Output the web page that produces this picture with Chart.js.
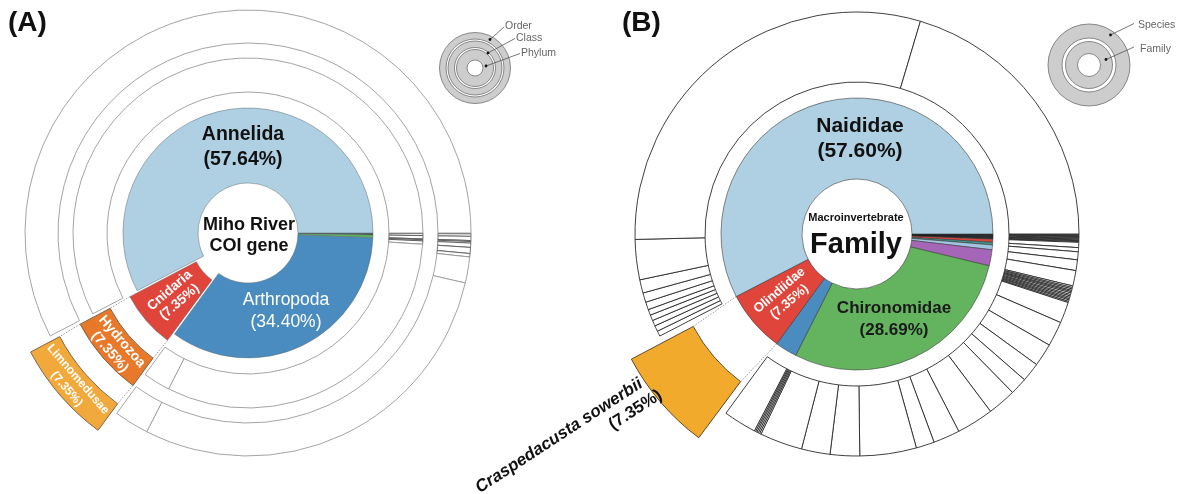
<!DOCTYPE html>
<html>
<head>
<meta charset="utf-8">
<script src="https://cdn.jsdelivr.net/npm/chart.js@4.4.1/dist/chart.umd.min.js"></script>
<style>
  html, body { margin: 0; padding: 0; background: #ffffff; overflow: hidden; }
  #wrap { position: relative; width: 1182px; height: 494px; }
  #wrap canvas { position: absolute; left: 0; top: 0; }
</style>
</head>
<body>
<div id="wrap">
  <canvas id="panelA" width="1182" height="494"></canvas>
  <canvas id="panelB" width="1182" height="494"></canvas>
</div>
<script>
// ---------- Panel A: Miho River, COI gene (phylum / class / order), % of reads ----------
// every ring runs clockwise from 3 o'clock
const phylumLabels = ['Nematoda', 'Platyhelminthes', 'Mollusca', 'Arthropoda', 'Cnidaria', 'Annelida'];
const phylumValues = [0.06, 0.18, 0.37, 34.40, 7.35, 57.64];

const classLabels = ['Chromadorea', 'Rhabditophora', 'Gastropoda', 'Bivalvia', 'Arachnida', 'Collembola',
                     'Insecta', 'Malacostraca', 'Hydrozoa', 'Clitellata'];
const classValues = [0.06, 0.18, 0.30, 0.07, 0.11, 0.31, 31.47, 2.51, 7.35, 57.64];

const orderLabels = ['Rhabditida', 'Tricladida', 'Hygrophila', 'Venerida', 'Trombidiformes', 'Entomobryomorpha',
                     'Hemiptera', 'Coleoptera', 'Ephemeroptera', 'Diptera', 'Amphipoda', 'Limnomedusae', 'Haplotaxida'];
const orderValues = [0.06, 0.18, 0.30, 0.07, 0.11, 0.31, 0.44, 0.25, 1.88, 28.90, 2.51, 7.35, 57.64];

// ---------- Panel B: macroinvertebrate family / species, % of reads ----------
const familyLabels = ['Hydroptilidae', 'Elmidae', 'Caenidae', 'Leptophlebiidae', 'Sphaeriidae', 'Lumbriculidae',
                      'Enchytraeidae', 'Planariidae', 'Glossiphoniidae', 'Erpobdellidae', 'Gammaridae', 'Physidae',
                      'Asellidae', 'Baetidae', 'Chironomidae', 'Ceratopogonidae', 'Olindiidae', 'Naididae'];
const familyValues = [0.06, 0.06, 0.06, 0.06, 0.06, 0.06, 0.06, 0.06, 0.06, 0.06,
                      0.38, 0.30, 0.58, 1.90, 28.69, 2.60, 7.35, 57.60];

const speciesLabels = [
  'Hydroptila sp.', 'Stenelmis sp.', 'Caenis sp.', 'Paraleptophlebia sp.', 'Sphaerium sp.', 'Lumbriculus variegatus',
  'Enchytraeus sp.', 'Dugesia japonica', 'Glossiphonia sp.', 'Erpobdella sp.',
  'Gammarus sp.', 'Physa acuta', 'Asellus hilgendorfii', 'Baetis sp. 1', 'Baetis sp. 2',
  'Chironomidae sp. 1', 'Chironomidae sp. 2', 'Chironomidae sp. 3', 'Chironomidae sp. 4', 'Chironomidae sp. 5',
  'Chironomidae sp. 6', 'Chironomidae sp. 7', 'Chironomidae sp. 8', 'Chironomidae sp. 9', 'Chironomidae sp. 10',
  'Chironomidae sp. 11', 'Chironomidae sp. 12', 'Chironomidae sp. 13', 'Chironomidae sp. 14', 'Chironomidae sp. 15',
  'Chironomidae sp. 16', 'Chironomidae sp. 17', 'Chironomidae sp. 18', 'Chironomidae sp. 19', 'Chironomidae sp. 20',
  'Chironomidae sp. 21', 'Chironomidae sp. 22', 'Chironomidae sp. 23', 'Chironomidae sp. 24', 'Chironomidae sp. 25',
  'Chironomidae sp. 26', 'Chironomidae sp. 27', 'Chironomidae sp. 28',
  'Ceratopogonidae sp. 1', 'Ceratopogonidae sp. 2', 'Ceratopogonidae sp. 3',
  'Craspedacusta sowerbii',
  'Naididae sp. 1', 'Naididae sp. 2', 'Naididae sp. 3', 'Naididae sp. 4', 'Naididae sp. 5', 'Naididae sp. 6',
  'Naididae sp. 7', 'Naididae sp. 8', 'Naididae sp. 9', 'Limnodrilus hoffmeisteri', 'Branchiura sowerbyi'
];
const speciesValues = [
  0.06, 0.06, 0.06, 0.06, 0.06, 0.06, 0.06, 0.06, 0.06, 0.06,
  0.38, 0.30, 0.58, 0.78, 1.12,
  0.12, 0.10, 0.11, 0.09, 0.10, 0.12, 0.10, 0.11, 0.10, 0.09, 0.11, 0.09,
  1.53, 1.81, 1.67, 1.39, 1.25, 2.08, 2.69, 1.94, 1.33, 4.11, 2.14, 2.08, 3.10, 0.11, 0.11, 0.11,
  0.10, 0.10, 2.40,
  7.35,
  0.39, 0.42, 0.42, 0.42, 0.42, 0.56, 0.69, 0.97, 2.92, 30.00, 20.39
];

// ---------- styles ----------
const FONT = '"Liberation Sans", Arial, Helvetica, sans-serif';
Chart.defaults.font.family = FONT;

const phylumColors = { Nematoda: '#3a3a3a', Platyhelminthes: '#2b2b2b', Mollusca: '#5db35b',
                       Arthropoda: '#4a8cbf', Cnidaria: '#e0453b', Annelida: '#afd0e2' };
const familyColors = { Gammaridae: '#d8463e', Physidae: '#3e9b90', Asellidae: '#a2c4e0', Baetidae: '#a566b8',
                       Chironomidae: '#63b35f', Ceratopogonidae: '#4a8cbf', Olindiidae: '#e0453b', Naididae: '#afd0e2' };
const minorFamilyColor = '#8fa7b8';
const exploded = { Cnidaria: 24, Hydrozoa: 42, Limnomedusae: 65, 'Craspedacusta sowerbii': 94 };
const pieceFill = { Hydrozoa: '#e8792a', Limnomedusae: '#f2a93b', 'Craspedacusta sowerbii': '#f2aa2c' };

const pct = v => '(' + v.toFixed(2) + '%)';
const offsetsOf = labels => labels.map(l => exploded[l] || 0);
const spacer = w => ({ data: [1], weight: w, backgroundColor: 'rgba(0,0,0,0)', borderWidth: 0 });

// geometry of an arc as Chart.js draws it (including its offset)
function arcGeom(arc, offset) {
  const p = arc.getProps(['x', 'y', 'startAngle', 'endAngle', 'innerRadius', 'outerRadius'], true);
  const circ = p.endAngle - p.startAngle;
  const t = (offset || 0) / 4;
  const ro = t * (1 - Math.sin(Math.min(Math.PI, circ)));
  const mid = (p.startAngle + p.endAngle) / 2;
  const rIn = p.innerRadius + ro, rOut = p.outerRadius + ro;
  const beta = Math.max(0.001, circ * rOut - ro / Math.PI) / rOut;
  const ao = (circ - beta) / 2;
  const cx = p.x + Math.cos(mid) * t, cy = p.y + Math.sin(mid) * t;
  const pt = (r, a) => [cx + Math.cos(a) * r, cy + Math.sin(a) * r];
  return {
    cx, cy, mid, rIn, rOut, pt,
    inS: pt(rIn, p.startAngle + ao), inE: pt(rIn, p.endAngle - ao),
    outS: pt(rOut, p.startAngle + ao), outE: pt(rOut, p.endAngle - ao)
  };
}

function dotted(ctx, segs) {
  ctx.save();
  ctx.strokeStyle = '#8a8a8a';
  ctx.lineWidth = 0.9;
  ctx.setLineDash([1.5, 1.5]);
  segs.forEach(([a, b]) => { ctx.beginPath(); ctx.moveTo(a[0], a[1]); ctx.lineTo(b[0], b[1]); ctx.stroke(); });
  ctx.restore();
}

function textBlock(ctx, x, y, rot, lines, o) {
  ctx.save();
  ctx.translate(x, y);
  ctx.rotate(rot || 0);
  ctx.fillStyle = o.color;
  ctx.textAlign = o.align || 'center';
  ctx.textBaseline = 'middle';
  const n = lines.length;
  lines.forEach((ln, i) => {
    ctx.font = ln.font;
    ctx.fillText(ln.t, (o.dx || 0) + (ln.dx || 0), (i - (n - 1) / 2) * o.lh + (o.dy || 0));
  });
  ctx.restore();
}

// concentric-ring key with pointer labels
function ringKey(ctx, x, y, rings, pointers) {
  ctx.save();
  rings.forEach(([ri, ro]) => {
    ctx.beginPath(); ctx.arc(x, y, ro, 0, Math.PI * 2);
    ctx.fillStyle = '#cdcdcd'; ctx.fill();
    ctx.strokeStyle = '#6f6f6f'; ctx.lineWidth = 0.8; ctx.stroke();
    ctx.beginPath(); ctx.arc(x, y, ri, 0, Math.PI * 2);
    ctx.fillStyle = '#ffffff'; ctx.fill(); ctx.stroke();
  });
  pointers.forEach(p => {
    ctx.beginPath(); ctx.moveTo(p.dot[0], p.dot[1]); ctx.lineTo(p.end[0], p.end[1]);
    ctx.strokeStyle = '#555'; ctx.lineWidth = 0.8; ctx.stroke();
    ctx.beginPath(); ctx.arc(p.dot[0], p.dot[1], 1.4, 0, Math.PI * 2);
    ctx.fillStyle = '#111'; ctx.fill();
    ctx.font = '10.5px ' + FONT; ctx.fillStyle = '#666';
    ctx.textAlign = 'left'; ctx.textBaseline = 'middle';
    ctx.fillText(p.text, p.tx, p.ty);
  });
  ctx.restore();
}

function title(ctx, s, x, y) {
  ctx.save();
  ctx.font = 'bold 28px ' + FONT; ctx.fillStyle = '#111';
  ctx.textAlign = 'left'; ctx.textBaseline = 'middle';
  ctx.fillText(s, x, y);
  ctx.restore();
}

// ---------- panel A drawing extras ----------
const panelAExtras = {
  id: 'panelAExtras',
  afterDatasetsDraw(chart) {
    const ctx = chart.ctx;
    const ord = chart.getDatasetMeta(0), cls = chart.getDatasetMeta(2), phy = chart.getDatasetMeta(4);
    const gCn = arcGeom(phy.data[phylumLabels.indexOf('Cnidaria')], exploded.Cnidaria);
    const gHy = arcGeom(cls.data[classLabels.indexOf('Hydrozoa')], exploded.Hydrozoa);
    const gLi = arcGeom(ord.data[orderLabels.indexOf('Limnomedusae')], exploded.Limnomedusae);
    dotted(ctx, [[gCn.outS, gHy.inS], [gHy.outS, gLi.inS], [gCn.outE, gHy.inE], [gHy.outE, gLi.inE]]);

    const x0 = phy.data[0].x, y0 = phy.data[0].y;
    const iAn = phylumLabels.indexOf('Annelida'), iAr = phylumLabels.indexOf('Arthropoda');
    textBlock(ctx, x0 - 5, y0 - 86, 0,
      [{ t: phylumLabels[iAn], font: 'bold 19.5px ' + FONT }, { t: pct(phylumValues[iAn]), font: 'bold 19.5px ' + FONT }],
      { color: '#111', lh: 25 });
    textBlock(ctx, x0 + 1, y0 + 3, 0,
      [{ t: 'Miho River', font: 'bold 18px ' + FONT }, { t: 'COI gene', font: 'bold 18px ' + FONT }],
      { color: '#111', lh: 21 });
    textBlock(ctx, x0 + 38, y0 + 78, 0,
      [{ t: phylumLabels[iAr], font: '17.5px ' + FONT }, { t: pct(phylumValues[iAr]), font: '17.5px ' + FONT }],
      { color: '#ffffff', lh: 22 });

    const inPiece = (g, name, val, size, lh, rot) => {
      const r = (g.rIn + g.rOut) / 2;
      textBlock(ctx, g.cx + Math.cos(g.mid) * r, g.cy + Math.sin(g.mid) * r, rot,
        [{ t: name, font: 'bold ' + size + 'px ' + FONT }, { t: pct(val), font: 'bold ' + size + 'px ' + FONT }],
        { color: '#ffffff', lh });
    };
    inPiece(gCn, 'Cnidaria', phylumValues[phylumLabels.indexOf('Cnidaria')], 13.5, 15, gCn.mid + Math.PI);
    inPiece(gHy, 'Hydrozoa', classValues[classLabels.indexOf('Hydrozoa')], 14, 16, gHy.mid - Math.PI / 2);
    inPiece(gLi, 'Limnomedusae', orderValues[orderLabels.indexOf('Limnomedusae')], 12, 15, gLi.mid - Math.PI / 2);
  },
  afterDraw(chart) {
    const ctx = chart.ctx;
    title(ctx, '(A)', 8, 23);
    ringKey(ctx, 475, 68, [[29, 35.5], [20.5, 27], [8, 18.5]], [
      { dot: [490, 39.5], end: [504, 27], text: 'Order', tx: 505, ty: 26 },
      { dot: [488, 53], end: [515, 38.5], text: 'Class', tx: 516, ty: 38 },
      { dot: [486, 66], end: [520, 53.5], text: 'Phylum', tx: 521, ty: 53 }
    ]);
  }
};

// ---------- panel B drawing extras ----------
const panelBExtras = {
  id: 'panelBExtras',
  afterDatasetsDraw(chart) {
    const ctx = chart.ctx;
    const sp = chart.getDatasetMeta(0), fam = chart.getDatasetMeta(2);
    const gOl = arcGeom(fam.data[familyLabels.indexOf('Olindiidae')], 0);
    const iCr = speciesLabels.indexOf('Craspedacusta sowerbii');
    const gCr = arcGeom(sp.data[iCr], exploded['Craspedacusta sowerbii']);
    dotted(ctx, [[gOl.outS, gCr.inS], [gOl.outE, gCr.inE]]);

    const x0 = fam.data[0].x, y0 = fam.data[0].y;
    const iNa = familyLabels.indexOf('Naididae'), iCh = familyLabels.indexOf('Chironomidae');
    textBlock(ctx, x0 + 3, y0 - 95, 0,
      [{ t: familyLabels[iNa], font: 'bold 21px ' + FONT }, { t: pct(familyValues[iNa]), font: 'bold 21px ' + FONT }],
      { color: '#111', lh: 25 });
    textBlock(ctx, x0 - 1, y0 - 16, 0, [{ t: 'Macroinvertebrate', font: 'bold 11px ' + FONT }], { color: '#111', lh: 0 });
    textBlock(ctx, x0 - 1, y0 + 11, 0, [{ t: 'Family', font: 'bold 29px ' + FONT }], { color: '#111', lh: 0 });
    textBlock(ctx, x0 + 37, y0 + 85, 0,
      [{ t: familyLabels[iCh], font: 'bold 17px ' + FONT }, { t: pct(familyValues[iCh]), font: 'bold 17px ' + FONT }],
      { color: '#1a1a1a', lh: 22 });

    const rOl = (gOl.rIn + gOl.rOut) / 2;
    const iOl = familyLabels.indexOf('Olindiidae');
    textBlock(ctx, gOl.cx + Math.cos(gOl.mid) * rOl, gOl.cy + Math.sin(gOl.mid) * rOl, gOl.mid + Math.PI,
      [{ t: familyLabels[iOl], font: 'bold 13px ' + FONT }, { t: pct(familyValues[iOl]), font: 'bold 13px ' + FONT }],
      { color: '#ffffff', lh: 15 });

    // species name sits just outside the detached piece, reading toward the centre
    const a = gCr.pt(gCr.rOut + 4, gCr.mid + 0.075);
    textBlock(ctx, a[0], a[1], gCr.mid + Math.PI + 0.13,
      [{ t: speciesLabels[iCr], font: 'italic bold 17px ' + FONT },
       { t: pct(speciesValues[iCr]), font: 'bold 17px ' + FONT, dx: 10 }],
      { color: '#111', lh: 20, align: 'right' });
  },
  afterDraw(chart) {
    const ctx = chart.ctx;
    title(ctx, '(B)', 622, 23);
    ringKey(ctx, 1089, 65, [[27, 41], [11.5, 23.5]], [
      { dot: [1110.5, 35], end: [1134, 23.5], text: 'Species', tx: 1138, ty: 25 },
      { dot: [1106, 59.5], end: [1134, 47], text: 'Family', tx: 1140, ty: 49 }
    ]);
  }
};

const common = {
  responsive: false,
  animation: false,
  events: [],
  devicePixelRatio: 1,
  rotation: 90,
  plugins: { legend: { display: false }, tooltip: { enabled: false } }
};

// ---------- chart A ----------
new Chart(document.getElementById('panelA'), {
  type: 'doughnut',
  data: {
    datasets: [
      {
        label: 'Order', data: orderValues, weight: 33,
        backgroundColor: orderLabels.map(l => pieceFill[l] || '#ffffff'),
        borderColor: orderLabels.map((l, i) => pieceFill[l] ? '#6d5a45' : (orderValues[i] < 1 ? '#5a5a5a' : '#9a9a9a')),
        borderWidth: 0.9, offset: offsetsOf(orderLabels)
      },
      spacer(15),
      {
        label: 'Class', data: classValues, weight: 34,
        backgroundColor: classLabels.map(l => pieceFill[l] || '#ffffff'),
        borderColor: classLabels.map((l, i) => pieceFill[l] ? '#6d5a45' : (classValues[i] < 1 ? '#5a5a5a' : '#9a9a9a')),
        borderWidth: 0.9, offset: offsetsOf(classLabels)
      },
      spacer(16),
      {
        label: 'Phylum', data: phylumValues, weight: 75,
        backgroundColor: phylumLabels.map(l => phylumColors[l]),
        borderColor: '#5f6a70', borderWidth: 0.5, offset: offsetsOf(phylumLabels)
      }
    ]
  },
  options: Object.assign({}, common, {
    radius: 223, cutout: '22.42%',
    layout: { padding: { left: 0, top: 0, right: 686, bottom: 28 } }
  }),
  plugins: [panelAExtras]
});

// ---------- chart B ----------
new Chart(document.getElementById('panelB'), {
  type: 'doughnut',
  data: {
    datasets: [
      {
        label: 'Species', data: speciesValues, weight: 70,
        backgroundColor: speciesLabels.map(l => pieceFill[l] || '#ffffff'),
        borderColor: speciesLabels.map(l => pieceFill[l] ? '#4a3a20' : '#2a2a2a'),
        borderWidth: 0.9, offset: offsetsOf(speciesLabels)
      },
      spacer(16),
      {
        label: 'Family', data: familyValues, weight: 81,
        backgroundColor: familyLabels.map(l => familyColors[l] || minorFamilyColor),
        borderColor: familyLabels.map(l => familyColors[l] ? '#3a3a3a' : '#151515'),
        borderWidth: 0.6
      }
    ]
  },
  options: Object.assign({}, common, {
    radius: 222, cutout: '24.77%',
    layout: { padding: { left: 532, top: 0, right: 0, bottom: 26 } }
  }),
  plugins: [panelBExtras]
});
</script>
</body>
</html>
